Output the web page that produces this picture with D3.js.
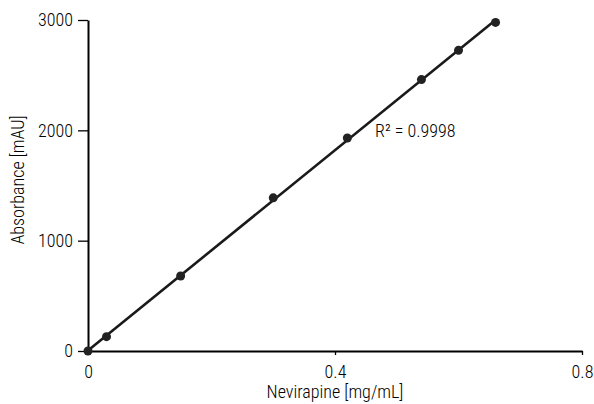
<!DOCTYPE html>
<html><head><meta charset="utf-8">
<script src="https://cdn.jsdelivr.net/npm/d3@7"></script>
<style>
body{margin:0;background:#fff;}
svg text{font-family:"Roboto Condensed","Liberation Sans Narrow","Liberation Sans",Arial,sans-serif;font-weight:300;fill:#000;}
</style></head>
<body><svg id="c" width="594" height="404"></svg>
<script>
const concentrations = [0, 0.03, 0.15, 0.30, 0.42, 0.54, 0.60, 0.66];
const absorbance = [0, 130, 680, 1388, 1930, 2460, 2725, 2978];
const xTicks = [0, 0.4, 0.8];
const yTicks = [0, 1000, 2000, 3000];
const r2Label = "R² = 0.9998";

const FS = 18;
const FONT = '"Roboto Condensed","Liberation Sans Narrow","Liberation Sans",Arial,sans-serif';
const svg = d3.select("#c");
const x = d3.scaleLinear().domain([0, 0.8]).range([88, 582]);
const y = d3.scaleLinear().domain([0, 3000]).range([351, 20]);

const xAxis = svg.append("g").attr("transform", "translate(0,351)")
  .call(d3.axisBottom(x).tickValues(xTicks).tickFormat(d => d === 0 ? "0" : d3.format(".1f")(d)).tickSize(4).tickPadding(10).tickSizeOuter(0));
const yAxis = svg.append("g").attr("transform", "translate(88,0)")
  .call(d3.axisLeft(y).tickValues(yTicks).tickFormat(d3.format("d")).tickSize(10).tickPadding(5).tickSizeOuter(0));
[xAxis, yAxis].forEach(g => {
  g.select(".domain").attr("stroke", "#000").attr("stroke-width", 2);
  g.selectAll(".tick line").attr("stroke", "#000").attr("stroke-width", 1.3);
  g.selectAll(".tick text").attr("font-size", FS).attr("fill", "#000").attr("font-weight", 300).style("font-family", FONT);
});
xAxis.selectAll(".tick").filter(d => d === 0).select("line").remove();

// least-squares regression line through the data
const n = concentrations.length;
const mx = d3.mean(concentrations), my = d3.mean(absorbance);
let sxy = 0, sxx = 0;
for (let i = 0; i < n; i++) { sxy += (concentrations[i]-mx)*(absorbance[i]-my); sxx += (concentrations[i]-mx)**2; }
const slope = sxy / sxx, icpt = my - slope * mx;
const x0 = d3.min(concentrations), x1 = d3.max(concentrations);
svg.append("line")
  .attr("x1", x(x0)).attr("y1", y(slope*x0 + icpt))
  .attr("x2", x(x1)).attr("y2", y(slope*x1 + icpt))
  .attr("stroke", "#1a1a1a").attr("stroke-width", 2.6);

svg.selectAll("circle.pt").data(concentrations).join("circle")
  .attr("class", "pt")
  .attr("cx", d => x(d)).attr("cy", (d, i) => y(absorbance[i]))
  .attr("r", 4.5).attr("fill", "#222");

svg.append("text").attr("x", 375).attr("y", 137).attr("font-size", FS).text(r2Label);

svg.append("text").attr("x", 335).attr("y", 398).attr("text-anchor", "middle").attr("font-size", FS)
  .text("Nevirapine [mg/mL]");
svg.append("text").attr("transform", "translate(24,180) rotate(-90)").attr("text-anchor", "middle").attr("font-size", FS)
  .text("Absorbance [mAU]");
</script></body></html>
